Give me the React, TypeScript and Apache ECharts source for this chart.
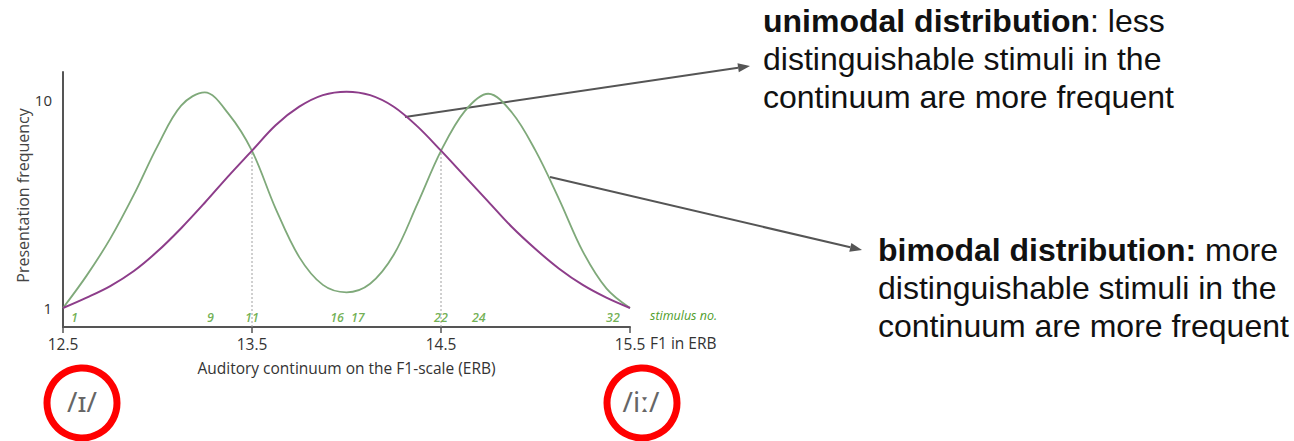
import React, { useEffect, useRef } from "react";
import * as echarts from "echarts";

// ---- data ----
const xTicks = [12.5, 13.5, 14.5, 15.5];
const yTickValues = [1, 10];

// F1 positions (ERB) at which the curves were read
const curveX = [12.5, 12.625, 12.75, 12.875, 13.0, 13.125, 13.25, 13.375, 13.5, 13.625, 13.75, 13.875, 14.0, 14.125, 14.25, 14.375, 14.5, 14.625, 14.75, 14.875, 15.0, 15.125, 15.25, 15.375, 15.5];

// unimodal distribution (purple): presentation frequency
const unimodalY = [1.0, 1.45, 1.95, 2.6, 3.45, 4.45, 5.55, 6.7, 7.8, 8.9, 9.7, 10.2, 10.35, 10.2, 9.7, 8.85, 7.8, 6.7, 5.6, 4.5, 3.55, 2.7, 2.0, 1.45, 1.0];

// bimodal distribution (green): presentation frequency
const bimodalY = [1.0, 2.4, 4.0, 5.9, 8.0, 9.75, 10.32, 9.4, 7.79, 5.3, 3.2, 2.0, 1.68, 2.05, 3.3, 5.5, 7.79, 9.5, 10.26, 9.45, 7.8, 5.7, 3.45, 1.85, 1.0];

// crossing points marked with dotted verticals
const crossX = [13.5, 14.5];
const crossY = [7.79, 7.79];

// stimulus numbers along the continuum
const stimulusNo = [1, 9, 11, 16, 17, 22, 24, 32];
const stimulusLabelX = [12.56, 13.28, 13.5, 13.95, 14.06, 14.5, 14.7, 15.41];
const stimulusLabelY = 0.6;

const Y_MIN = 0.18;
const Y_MAX = 11.2;

const GREEN = "#7fa97a";
const PURPLE = "#8d3d8a";
const STIM_GREEN = "#4f9d2a";
const ARROW = "#555555";

function arrow(x1: number, y1: number, x2: number, y2: number) {
  const dx = x2 - x1;
  const dy = y2 - y1;
  const len = Math.sqrt(dx * dx + dy * dy);
  const ux = dx / len;
  const uy = dy / len;
  const hl = 12;
  const hw = 4.5;
  const bx = x2 - ux * hl;
  const by = y2 - uy * hl;
  return [
    {
      type: "line",
      shape: { x1, y1, x2: bx, y2: by },
      style: { stroke: ARROW, lineWidth: 2 },
      silent: true,
    },
    {
      type: "polygon",
      shape: {
        points: [
          [x2, y2],
          [bx - uy * hw, by + ux * hw],
          [bx + uy * hw, by - ux * hw],
        ],
      },
      style: { fill: ARROW },
      silent: true,
    },
  ];
}

const annFont = "Liberation Sans";
const annStyle = (text: string, x: number, y: number) => ({
  type: "text",
  x,
  y,
  style: {
    text,
    fill: "#111",
    fontSize: 32,
    lineHeight: 38,
    fontFamily: annFont,
    verticalAlign: "middle",
    align: "left",
    rich: {
      b: { fontWeight: "bold", fontSize: 32, fontFamily: annFont, fill: "#111", lineHeight: 38 },
    },
  },
});

export default function App() {
  const ref = useRef<HTMLDivElement>(null);

  useEffect(() => {
    if (!ref.current) return;
    const chart = echarts.init(ref.current, null, { renderer: "svg" });

    const dottedSeries = crossX.map((x, i) => ({
      type: "line",
      data: [
        [x, Y_MIN],
        [x, crossY[i]],
      ],
      symbol: "none",
      lineStyle: { color: "#a0a0a0", width: 1, type: [2, 2] },
      z: 1,
      silent: true,
    }));

    const option: any = {
      animation: false,
      backgroundColor: "#ffffff",
      textStyle: { fontFamily: "Open Sans" },
      grid: { left: 63, right: 664, top: 72, bottom: 114, containLabel: false },
      xAxis: {
        type: "value",
        min: xTicks[0],
        max: xTicks[xTicks.length - 1],
        interval: 1,
        axisLine: { lineStyle: { color: "#555", width: 2 } },
        axisTick: { show: true, length: 6, lineStyle: { color: "#555", width: 1.5 } },
        axisLabel: {
          fontSize: 15.5,
          color: "#333",
          margin: 9,
          fontFamily: "Open Sans",
          formatter: (v: number) => v.toFixed(1),
        },
        splitLine: { show: false },
        name: "Auditory continuum on the F1-scale (ERB)",
        nameLocation: "middle",
        nameGap: 33,
        nameTextStyle: { fontSize: 15.5, color: "#333", fontFamily: "Open Sans" },
      },
      yAxis: {
        type: "value",
        min: Y_MIN,
        max: Y_MAX,
        axisLine: { show: true, lineStyle: { color: "#555", width: 2 } },
        axisTick: { show: false },
        axisLabel: {
          customValues: yTickValues,
          fontSize: 15,
          color: "#333",
          margin: 11,
          fontFamily: "Open Sans",
        },
        splitLine: { show: false },
        name: "Presentation frequency",
        nameLocation: "middle",
        nameGap: 32,
        nameTextStyle: { fontSize: 16, color: "#444", fontFamily: "Open Sans", padding: [0, 0, 0, 8] },
      },
      series: [
        ...dottedSeries,
        {
          name: "unimodal",
          type: "line",
          smooth: 0.35,
          symbol: "none",
          data: curveX.map((x, i) => [x, unimodalY[i]]),
          lineStyle: { color: PURPLE, width: 2 },
          z: 3,
        },
        {
          name: "bimodal",
          type: "line",
          smooth: 0.35,
          symbol: "none",
          data: curveX.map((x, i) => [x, bimodalY[i]]),
          lineStyle: { color: GREEN, width: 1.8 },
          z: 2,
        },
        {
          name: "stimulus",
          type: "scatter",
          symbolSize: 0,
          data: stimulusNo.map((n, i) => ({
            value: [stimulusLabelX[i], stimulusLabelY],
            name: String(n),
          })),
          label: {
            show: true,
            position: "inside",
            formatter: (p: any) => p.name,
            color: STIM_GREEN,
            fontStyle: "italic",
            fontWeight: 600,
            fontSize: 12.5,
            fontFamily: "Open Sans",
          },
          silent: true,
        },
      ],
      graphic: [
        {
          type: "text",
          left: 650,
          top: 309,
          style: {
            text: "stimulus no.",
            fill: STIM_GREEN,
            fontStyle: "italic",
            fontSize: 12.5,
            fontFamily: "Open Sans",
          },
        },
        {
          type: "text",
          left: 650,
          top: 335,
          style: {
            text: "F1 in ERB",
            fill: "#333",
            fontSize: 15.5,
            fontFamily: "Open Sans",
          },
        },
        ...arrow(405, 117, 750, 66),
        ...arrow(550, 177, 862, 250),
        annStyle("{b|unimodal distribution}: less\ndistinguishable stimuli in the\ncontinuum are more frequent", 763, 59),
        annStyle("{b|bimodal distribution:} more\ndistinguishable stimuli in the\ncontinuum are more frequent", 878, 288),
        {
          type: "circle",
          shape: { cx: 82, cy: 403, r: 35 },
          style: { fill: "none", stroke: "#ff0000", lineWidth: 7 },
        },
        {
          type: "text",
          x: 82,
          y: 401,
          style: {
            text: "/ɪ/",
            fill: "#666",
            fontSize: 28,
            fontFamily: "Noto Sans",
            align: "center",
            verticalAlign: "middle",
          },
        },
        {
          type: "circle",
          shape: { cx: 642, cy: 403, r: 35 },
          style: { fill: "none", stroke: "#ff0000", lineWidth: 7 },
        },
        {
          type: "text",
          x: 641,
          y: 401,
          style: {
            text: "/iː/",
            fill: "#666",
            fontSize: 28,
            fontFamily: "Noto Sans",
            align: "center",
            verticalAlign: "middle",
          },
        },
      ],
    };

    chart.setOption(option);
    return () => chart.dispose();
  }, []);

  return (
    <div
      ref={ref}
      style={{ position: "fixed", left: 0, top: 0, width: 1294, height: 441, background: "#fff" }}
    />
  );
}
